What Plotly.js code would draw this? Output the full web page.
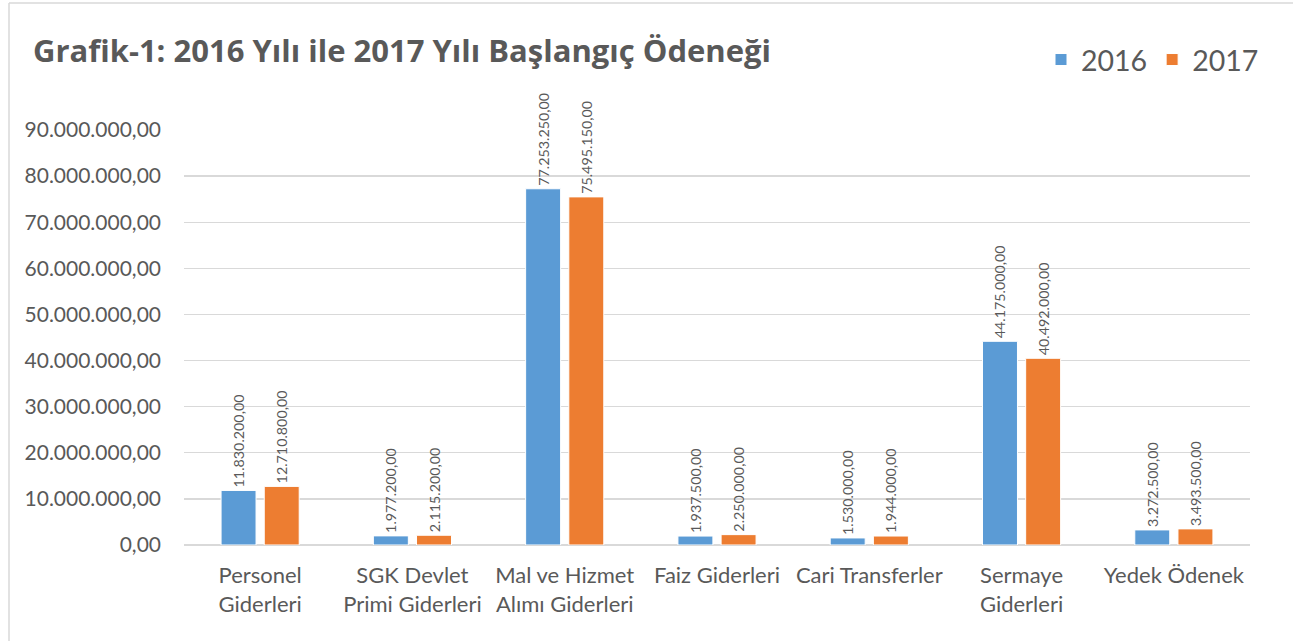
<!DOCTYPE html>
<html>
<head>
<meta charset="utf-8">
<script src="https://cdn.plot.ly/plotly-3.0.1.min.js"></script>
<style>
  html, body { margin: 0; padding: 0; background: #fff; }
  #chart { width: 1293px; height: 641px; }
</style>
</head>
<body>
<div id="chart"></div>
<script>
const categories = [
  "Personel<br>Giderleri",
  "SGK Devlet<br>Primi Giderleri",
  "Mal ve Hizmet<br>Alımı Giderleri",
  "Faiz Giderleri",
  "Cari Transferler",
  "Sermaye<br>Giderleri",
  "Yedek Ödenek"
];
const values2016 = [11830200, 1977200, 77253250, 1937500, 1530000, 44175000, 3272500];
const values2017 = [12710800, 2115200, 75495150, 2250000, 1944000, 40492000, 3493500];
const seriesNames = ["2016", "2017"];
const tickValues = [0, 10000000, 20000000, 30000000, 40000000, 50000000, 60000000, 70000000, 80000000, 90000000];

const W = 1293, H = 641;
const M = {l: 184, r: 43, t: 130, b: 96};
const pw = W - M.l - M.r, ph = H - M.t - M.b;
const px = v => (v - M.l) / pw;
const py = v => 1 - (v - M.t) / ph;

const FONT = "Lato, 'Open Sans', sans-serif";
const GREY = "#595959";

function barTrace(name, y, color) {
  return {
    type: "bar",
    name: name,
    x: categories,
    y: y,
    marker: {color: color, line: {color: "#ffffff", width: 1}},
    texttemplate: "%{y:,.2f}",
    textposition: "outside",
    textangle: -90,
    constraintext: "none",
    cliponaxis: false,
    textfont: {family: FONT, size: 14.3, color: GREY},
    hoverinfo: "x+y"
  };
}

const data = [
  barTrace(seriesNames[0], values2016, "#5B9BD5"),
  barTrace(seriesNames[1], values2017, "#ED7D31")
];

const layout = {
  width: W, height: H,
  margin: M,
  paper_bgcolor: "#ffffff",
  plot_bgcolor: "#ffffff",
  separators: ",.",
  font: {family: FONT, color: GREY},
  title: {
    text: "<b>Grafik-1: 2016 Yılı ile 2017 Yılı Başlangıç Ödeneği</b>",
    font: {family: "'Open Sans', sans-serif", size: 31, color: GREY},
    xref: "container", yref: "container",
    x: 33 / W, xanchor: "left",
    y: 1 - 51 / H, yanchor: "middle"
  },
  barmode: "group",
  bargap: 0.433,
  bargroupgap: 0.19,
  showlegend: true,
  legend: {
    orientation: "h",
    xref: "container", yref: "container",
    x: 1041 / W, xanchor: "left",
    y: 1 - 60 / H, yanchor: "middle",
    font: {family: FONT, size: 28.5, color: GREY},
    itemwidth: 30,
    bgcolor: "rgba(0,0,0,0)"
  },
  xaxis: {
    type: "category",
    tickfont: {family: FONT, size: 22, color: GREY},
    showgrid: false,
    showline: false,
    ticks: "",
    ticklabelstandoff: 15,
    fixedrange: true
  },
  yaxis: {
    range: [0, 90000000],
    tickvals: tickValues,
    tickformat: ",.2f",
    tickfont: {family: FONT, size: 21, color: GREY},
    showgrid: true,
    gridcolor: "#D9D9D9",
    gridwidth: 1.3,
    zeroline: true,
    zerolinecolor: "#D9D9D9",
    zerolinewidth: 1.3,
    showline: false,
    ticks: "",
    ticklabelstandoff: 22,
    fixedrange: true
  },
  shapes: [
    {type: "line", xref: "paper", yref: "paper",
     x0: px(9), x1: px(9), y0: py(3), y1: py(H + 5),
     line: {color: "#D9D9D9", width: 1.5}},
    {type: "line", xref: "paper", yref: "paper",
     x0: px(9), x1: px(W + 5), y0: py(3), y1: py(3),
     line: {color: "#D9D9D9", width: 1.5}}
  ]
};

Plotly.newPlot("chart", data, layout, {displayModeBar: false, staticPlot: true});
</script>
</body>
</html>
